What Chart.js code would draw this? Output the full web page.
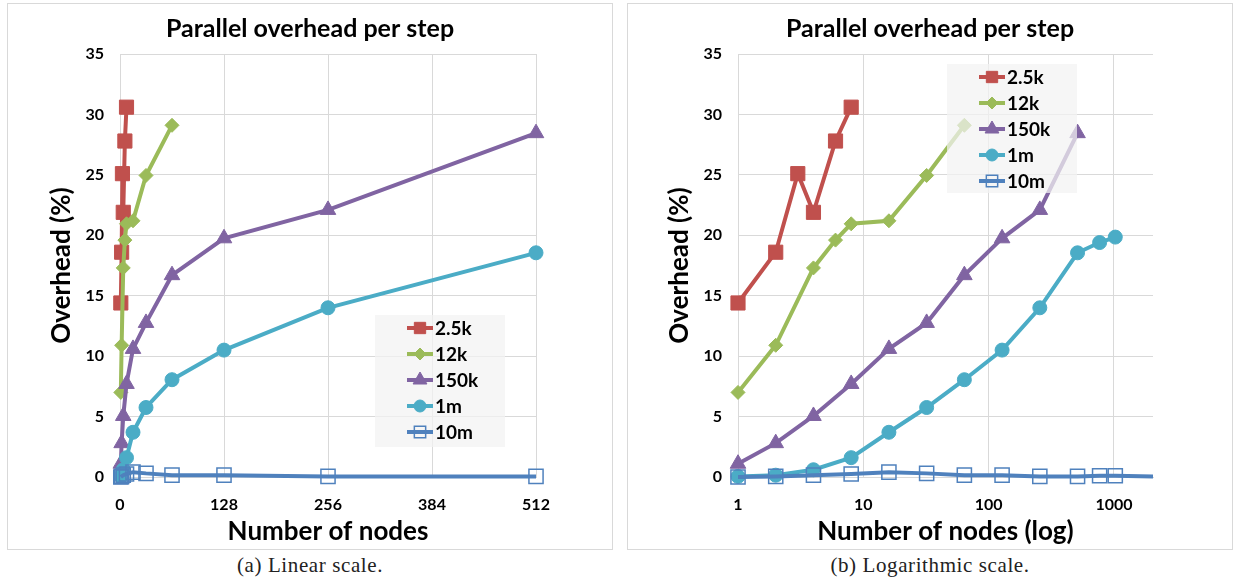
<!DOCTYPE html>
<html>
<head>
<meta charset="utf-8">
<title>Parallel overhead per step</title>
<script src="https://cdn.jsdelivr.net/npm/chart.js@4.4.1/dist/chart.umd.min.js"></script>
<style>
  body { margin: 0; background: #fff; width: 1233px; height: 587px; position: relative; overflow: hidden; }
  .panel { position: absolute; top: 3px; width: 604px; height: 545px; border: 1px solid #d9d9d9; }
  .panel canvas { display: block; }
  #panelLinear { left: 7px; }
  #panelLog { left: 627px; }
  .caption { position: absolute; top: 553px; width: 606px; text-align: center;
             font-family: 'Liberation Serif', serif; font-size: 21px; letter-spacing: 0.6px; color: #222; }
</style>
</head>
<body>
<div class="panel" id="panelLinear"><canvas id="linearChart" width="604" height="545"></canvas></div>
<div class="panel" id="panelLog"><canvas id="logChart" width="604" height="545"></canvas></div>
<div class="caption" style="left:7px">(a) Linear scale.</div>
<div class="caption" style="left:627px">(b) Logarithmic scale.</div>

<script>
// Problem sizes
const seriesNames = ['2.5k', '12k', '150k', '1m', '10m'];

// Overhead (%) measured per node count, one pair of arrays per problem size
const nodes2_5k = [1, 2, 3, 4, 6, 8];
const overhead2_5k = [14.4, 18.6, 25.1, 21.9, 27.8, 30.6];

const nodes12k = [1, 2, 4, 6, 8, 16, 32, 64];
const overhead12k = [7.0, 10.9, 17.3, 19.6, 20.95, 21.2, 24.95, 29.1];

const nodes150k = [1, 2, 4, 8, 16, 32, 64, 128, 256, 512];
const overhead150k = [1.1, 2.8, 5.05, 7.7, 10.6, 12.75, 16.7, 19.75, 22.1, 28.45];

const nodes1m = [1, 2, 4, 8, 16, 32, 64, 128, 256, 512, 768, 1024];
const overhead1m = [0.05, 0.15, 0.6, 1.6, 3.7, 5.75, 8.05, 10.5, 14.0, 18.55, 19.4, 19.85];

const nodes10m = [1, 2, 4, 8, 16, 32, 64, 128, 256, 512, 768, 1024, 2048];
const overhead10m = [0.0, 0.05, 0.15, 0.25, 0.4, 0.3, 0.15, 0.15, 0.05, 0.05, 0.1, 0.1, 0.05];

// Axis ticks
const linearTicks = [0, 128, 256, 384, 512];
const logTicks = [1, 10, 100, 1000];
const overheadTicks = [0, 5, 10, 15, 20, 25, 30, 35];

const allNodes = [nodes2_5k, nodes12k, nodes150k, nodes1m, nodes10m];
const allOverhead = [overhead2_5k, overhead12k, overhead150k, overhead1m, overhead10m];

// Look of each series (Excel 2010 palette)
const seriesStyles = [
  { color: '#c0504d', fill: '#c0504d', style: 'rect', radius: 10, legendRadius: 8, border: 1 },
  { color: '#9bbb59', fill: '#9bbb59', style: 'rectRot', radius: 7, legendRadius: 6, border: 1 },
  { color: '#8064a2', fill: '#8064a2', style: 'triangle', radius: 9, legendRadius: 8, border: 1 },
  { color: '#4bacc6', fill: '#4bacc6', style: 'circle', radius: 7, legendRadius: 6, border: 1 },
  { color: '#4f81bd', fill: 'rgba(0,0,0,0)', style: 'rect', radius: 10, legendRadius: 8, border: 1.5 }
];

const FONT = 'Lato, "Open Sans", sans-serif';
const GRID = '#d9d9d9';

function buildDatasets(maxNodes) {
  return seriesNames.map((name, i) => {
    const st = seriesStyles[i];
    const pts = [];
    allNodes[i].forEach((n, j) => {
      if (n <= maxNodes) pts.push({ x: n, y: allOverhead[i][j] });
    });
    return {
      label: name,
      data: pts,
      borderColor: st.color,
      backgroundColor: st.color,
      borderWidth: 4,
      pointStyle: st.style,
      // last 10m point only carries the line to the axis end
      pointRadius: pts.map(p => (i === 4 && p.x > 1024) ? 0 : st.radius),
      pointHoverRadius: st.radius,
      pointBackgroundColor: st.fill,
      pointBorderColor: st.color,
      pointBorderWidth: st.border,
      legendRadius: st.legendRadius,
      tension: 0,
      clip: false,
      order: seriesNames.length - i
    };
  });
}

// Legend box drawn over the plot, semi-transparent like the original
const boxLegend = {
  id: 'boxLegend',
  afterDatasetsDraw(chart, args, opts) {
    const ctx = chart.ctx;
    ctx.save();
    ctx.fillStyle = 'rgba(242,242,242,0.72)';
    ctx.fillRect(opts.x, opts.y, opts.width, opts.height);
    chart.data.datasets.forEach((ds, i) => {
      const cy = opts.y + 13 + i * 26;
      const lx = opts.x + 32;
      ctx.strokeStyle = ds.borderColor;
      ctx.lineWidth = ds.borderWidth;
      ctx.beginPath();
      ctx.moveTo(lx, cy);
      ctx.lineTo(lx + 26, cy);
      ctx.stroke();
      ctx.fillStyle = ds.pointBackgroundColor;
      ctx.strokeStyle = ds.pointBorderColor;
      ctx.lineWidth = ds.pointBorderWidth;
      Chart.helpers.drawPoint(ctx, {
        pointStyle: ds.pointStyle, radius: ds.legendRadius, rotation: 0, borderWidth: ds.pointBorderWidth
      }, lx + 13, cy);
      ctx.fillStyle = '#000';
      ctx.font = 'bold 19px ' + FONT;
      ctx.textBaseline = 'middle';
      ctx.textAlign = 'left';
      ctx.fillText(ds.label, lx + 28, cy + 1);
    });
    ctx.restore();
  }
};

function makeChart(canvasId, cfg) {
  const xScale = cfg.log
    ? { type: 'logarithmic', min: 1, max: 2048,
        afterBuildTicks: s => { s.ticks = logTicks.map(v => ({ value: v })); } }
    : { type: 'linear', min: 0, max: 512,
        afterBuildTicks: s => { s.ticks = linearTicks.map(v => ({ value: v })); } };

  Object.assign(xScale, {
    grid: { color: GRID, drawTicks: false },
    border: { color: GRID },
    ticks: { color: '#000', padding: 18, font: { family: FONT, size: 16, weight: 'bold' },
             maxRotation: 0, autoSkip: false, callback: v => String(v) },
    title: { display: true, text: cfg.xTitle, color: '#000',
             font: { family: FONT, size: 26, weight: 'bold' }, padding: { top: 0, bottom: 1.5 } },
    afterFit: s => { s.height = 72; }
  });

  return new Chart(document.getElementById(canvasId), {
    type: 'line',
    data: { datasets: buildDatasets(cfg.log ? 2048 : 512) },
    options: {
      responsive: false,
      animation: false,
      devicePixelRatio: 1,
      layout: { padding: 0 },
      scales: {
        x: xScale,
        y: {
          min: 0, max: 35,
          afterBuildTicks: s => { s.ticks = overheadTicks.map(v => ({ value: v })); },
          grid: { color: GRID, drawTicks: false },
          border: { color: GRID },
          ticks: { color: '#000', padding: 16, font: { family: FONT, size: 16, weight: 'bold' } },
          title: { display: true, text: 'Overhead (%)', color: '#000',
                   font: { family: FONT, size: 26, weight: 'bold' }, padding: { top: cfg.yTitleOffset, bottom: 0 } },
          afterFit: s => { s.width = cfg.leftWidth; }
        },
        // empty scale on the right keeps the plot narrower than the panel
        pad: {
          type: 'linear', position: 'right', display: true,
          grid: { display: false }, border: { display: false }, ticks: { display: false },
          afterFit: s => { s.width = cfg.rightWidth; }
        }
      },
      plugins: {
        legend: { display: false },
        tooltip: { enabled: false },
        title: {
          display: true, text: 'Parallel overhead per step', color: '#000',
          font: { family: FONT, size: 25, weight: 'bold' },
          padding: { top: 10, bottom: 10 }
        },
        boxLegend: cfg.legend
      }
    },
    plugins: [boxLegend]
  });
}

makeChart('linearChart', {
  log: false, xTitle: 'Number of nodes',
  leftWidth: 112, rightWidth: 76, yTitleOffset: 38,
  legend: { x: 367, y: 311, width: 130, height: 132 }
});

makeChart('logChart', {
  log: true, xTitle: 'Number of nodes (log)',
  leftWidth: 110, rightWidth: 79, yTitleOffset: 36,
  legend: { x: 319, y: 60, width: 130, height: 129 }
});
</script>
</body>
</html>
